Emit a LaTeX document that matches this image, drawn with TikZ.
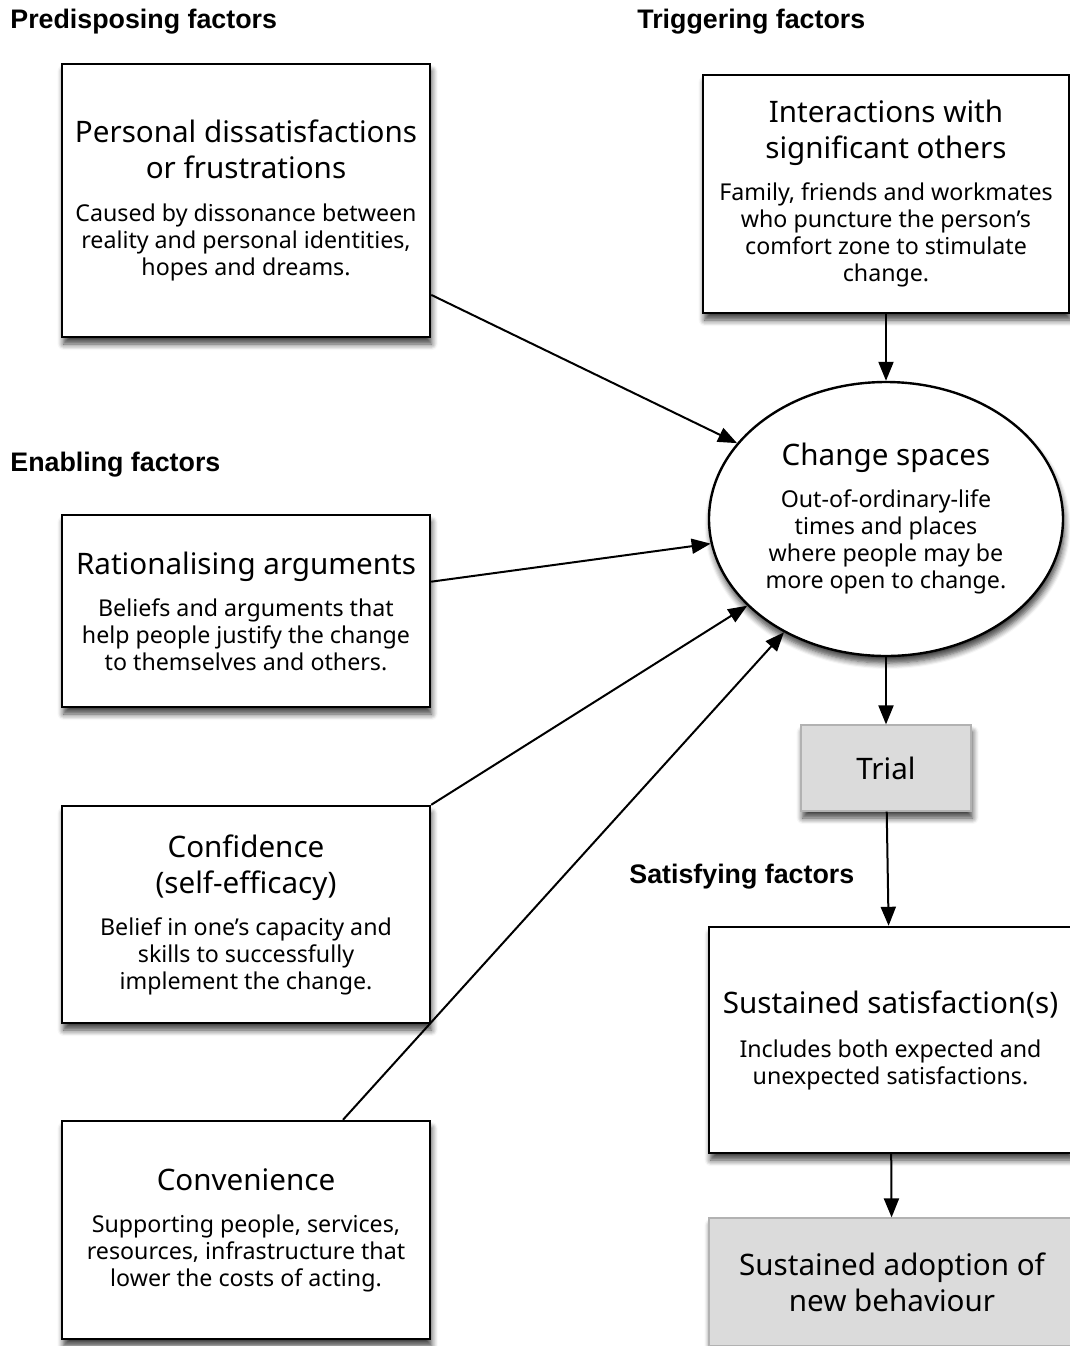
\documentclass[tikz,border=0pt]{standalone}
\usepackage{fontspec}
\setmainfont{Noto Sans}
\newfontfamily\headfont{Liberation Sans}
\usetikzlibrary{shapes.geometric,arrows.meta,shadows.blur}
\newcommand\ttl{\fontsize{14.8}{18}\selectfont}
\newcommand\txt{\fontsize{11.6}{13.5}\selectfont}
\begin{document}
\begin{tikzpicture}[x=0.5pt, y=-0.5pt,
  main/.style = {draw, line width=1.2pt, fill=white, align=center, inner sep=0pt, font=\txt,
    blur shadow={shadow xshift=0.8pt, shadow yshift=-3.5pt, shadow blur steps=6, shadow blur radius=3pt, shadow opacity=75}},
  grey/.style = {main, draw=black!30, line width=0.6pt, fill=black!14, font=\ttl},
  oval/.style = {main, ellipse},
  head/.style = {anchor=west, inner sep=0pt, font=\headfont\bfseries\fontsize{13.4}{15}\selectfont},
  link/.style = {line width=1pt, -{Triangle[length=9.5pt, width=7.5pt]}}]
	\useasboundingbox (0,0) rectangle (1070,1346);
	\clip (0,0) rectangle (1070,1346);
	\node[head] (h1) at (10,22) {Predisposing factors};
	\node[head] (h2) at (637,22) {Triggering factors};
	\node[head] (h3) at (10,465) {Enabling factors};
	\node[head] (h4) at (629,877) {Satisfying factors};
	\node[main, minimum width=184pt, minimum height=136.5pt] (pers) at (246,200.5)
		{\ttl Personal dissatisfactions\\[4.5pt] \ttl or frustrations\\[8pt]
		Caused by dissonance between\\ reality and personal identities,\\ hopes and dreams.};
	\node[main, minimum width=183pt, minimum height=119pt] (inter) at (886,194)
		{\ttl Interactions with\\[4.5pt] \ttl significant others\\[7.5pt]
		Family, friends and workmates\\ who puncture the person's\\ comfort zone to stimulate\\ change.};
	\node[oval, minimum width=177pt, minimum height=137pt] (chg) at (886,519)
		{\ttl Change spaces\\[7.5pt]
		Out-of-ordinary-life\\ times and places\\ where people may be\\ more open to change.};
	\node[main, minimum width=184pt, minimum height=96pt] (rat) at (246,611)
		{\ttl Rationalising arguments\\[7.5pt]
		Beliefs and arguments that\\ help people justify the change\\ to themselves and others.};
	\node[grey, minimum width=85pt, minimum height=43pt] (trial) at (886,768) {Trial};
	\node[main, minimum width=184pt, minimum height=108.5pt] (conf) at (246,914.5)
		{\ttl Confidence\\[4.5pt] \ttl (self-efficacy)\\[7.5pt]
		Belief in one's capacity and\\ skills to successfully\\ implement the change.};
	\node[main, minimum width=181.5pt, minimum height=113pt] (sat) at (890.5,1040)
		{\ttl Sustained satisfaction(s)\\[8.5pt]
		Includes both expected and\\ unexpected satisfactions.};
	\node[main, minimum width=184pt, minimum height=109pt] (conv) at (246,1230)
		{\ttl Convenience\\[7.5pt]
		Supporting people, services,\\ resources, infrastructure that\\ lower the costs of acting.};
	\node[grey, minimum width=183pt, minimum height=64pt] (adopt) at (892,1282)
		{Sustained adoption of\\ new behaviour};
	\draw[link] (pers.-27) -- (chg.153);
	\draw[link] (rat.9) -- (chg.188.5);
	\draw[link] (conf.north east) -- (chg.212);
	\draw[link] ([xshift=48.5pt]conv.north) -- (chg.228.4);
	\draw[link] (inter) -- (chg);
	\draw[link] (chg) -- (trial);
	\draw[link] (trial) -- (sat);
	\draw[link] (sat) -- (adopt);
\end{tikzpicture}
\end{document}
